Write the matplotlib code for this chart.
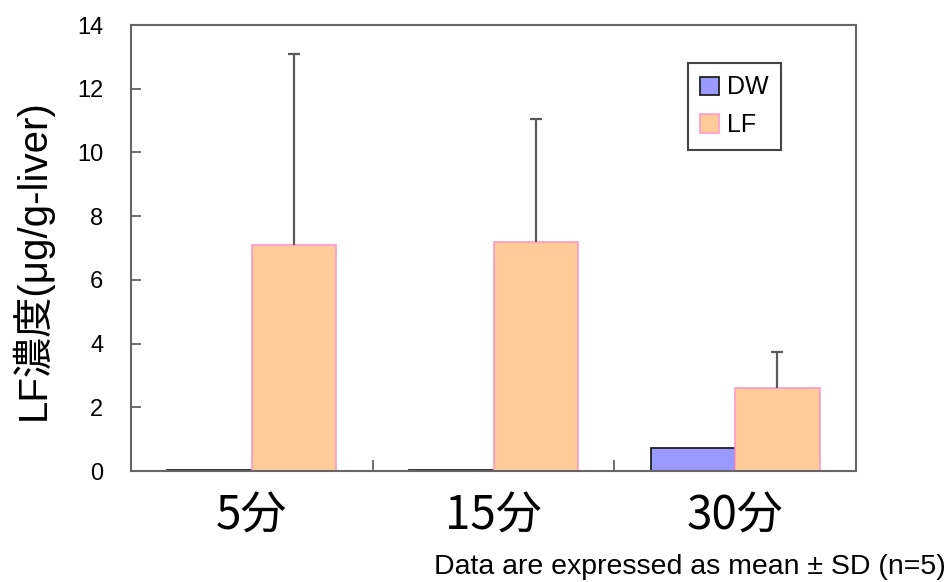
import matplotlib
matplotlib.use("Agg")
import matplotlib.pyplot as plt
import matplotlib.transforms as mtransforms
import numpy as np

plt.rcParams['font.family'] = ['Noto Sans CJK JP', 'DejaVu Sans']

categories = ["5分", "15分", "30分"]
dw_mean = [0.02, 0.02, 0.72]
lf_mean = [7.09, 7.19, 2.60]
lf_sd = [6.00, 3.86, 1.13]
yticks = [0, 2, 4, 6, 8, 10, 12, 14]

fig = plt.figure(figsize=(9.52, 5.82), dpi=100)
ax = fig.add_axes([0.1376, 0.1907, 0.7616, 0.7663])

x = np.arange(len(categories))
w = 0.35
ax.bar(x - w/2, dw_mean, w, color='#9999FF', edgecolor='#222222', linewidth=1.3, label='DW')
ax.bar(x + w/2, lf_mean, w, color='#FFCC99', edgecolor='#FF99CC', linewidth=1.2, label='LF')
eb = ax.errorbar(x + w/2, lf_mean, yerr=[np.zeros(3), lf_sd], fmt='none', ecolor='#5a5a5a',
                 elinewidth=1.6, capsize=4.5, capthick=1.6)
eb[1][0].set_visible(False)

ax.set_xlim(-0.5, 2.5)
ax.set_ylim(0, 14)
ax.set_yticks(yticks)
ax.set_yticklabels([str(v) for v in yticks], fontsize=17, family=['Liberation Sans'])
ax.set_xticks(x)
ax.set_xticklabels(categories, fontsize=33)
offset = mtransforms.ScaledTranslation(6/100, 0, fig.dpi_scale_trans)
for lbl in ax.get_xticklabels():
    lbl.set_transform(lbl.get_transform() + offset)
ax.set_xticks([0.5, 1.5], minor=True)
ax.tick_params(axis='x', which='major', length=0, pad=15)
ax.tick_params(axis='x', which='minor', direction='in', length=8, width=1.2, color='#555555')
ax.tick_params(axis='y', direction='in', length=7, width=1.2, color='#555555', pad=20)

for s in ax.spines.values():
    s.set_color('#666666')
    s.set_linewidth(1.5)

ax.set_ylabel("LF濃度(μg/g-liver)", fontsize=29, family=['Liberation Sans', 'Noto Sans CJK JP'])
ax.yaxis.set_label_coords(-0.108, 0.473)

leg = ax.legend(loc='upper left', bbox_to_anchor=(0.768, 0.915), borderaxespad=0,
                frameon=True, fancybox=False, edgecolor='#444444', framealpha=1,
                handlelength=0.75, handleheight=0.75, handletextpad=0.3,
                borderpad=0.5, labelspacing=0.55, prop={'family': ['Liberation Sans'], 'size': 18})
leg.get_frame().set_linewidth(1.5)

fig.text(0.993, 0.003, "Data are expressed as mean ± SD (n=5)", ha='right', va='bottom',
         fontsize=20.5, family=['Liberation Sans'])

fig.savefig("out.png", dpi=100)
